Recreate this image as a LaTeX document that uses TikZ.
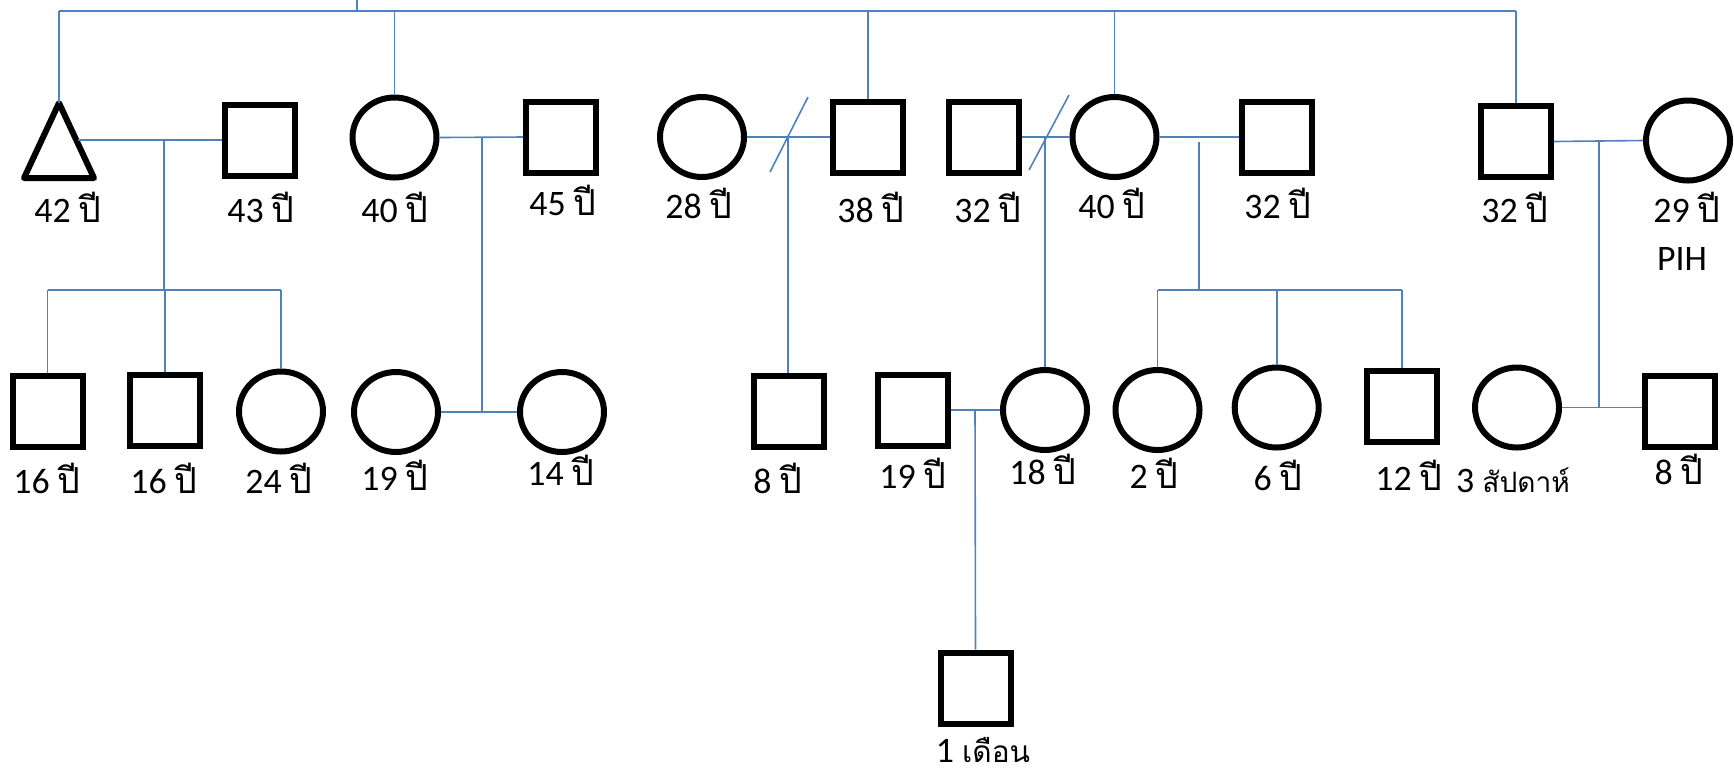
\documentclass[tikz,border=0pt]{standalone}
\usepackage{fontspec}
\setmainfont{Carlito}
\newfontfamily\thaifont[Script=Thai]{Loma}
\usepackage{tikz}
\usetikzlibrary{shapes.geometric}

\definecolor{linkblue}{RGB}{79,129,189}
\newcommand{\yrs}[1]{#1 {\thaifont ปี}}

\tikzset{
  male/.style={rectangle, draw=black, line width=0.6mm,
    minimum width=7.0mm, minimum height=7.1mm, inner sep=0pt},
  female/.style={ellipse, draw=black, line width=0.6mm,
    minimum width=8.4mm, minimum height=8.0mm, inner sep=0pt},
  rel/.style={draw=linkblue, line width=0.16mm},
  age/.style={anchor=base, inner sep=0pt, font=\fontsize{10.2}{12}\selectfont},
}

\begin{document}
\begin{tikzpicture}[x=0.1mm, y=-0.1mm]
  \useasboundingbox (0,0) rectangle (1734,772);

  \draw[draw=black, line width=0.6mm, line join=round]
    (59,103) coordinate (tri) -- (94,178) -- (24,178) -- cycle;
  \coordinate (tri-r) at (78,140);
  \node[male] (sq43) at (260,140) {};
  \node[female] (circ40) at (394.5,137.5) {};
  \node[male] (sq45) at (561,137) {};
  \node[female] (circ28) at (702,137) {};
  \node[male] (sq38) at (868,137) {};
  \node[male] (sq32) at (983.5,137) {};
  \node[female] (circ40b) at (1114.5,137) {};
  \node[male] (sq32b) at (1276.6,137) {};
  \node[male] (sq32c) at (1516,141.5) {};
  \node[female] (circ29) at (1688,140.5) {};

  \node[male] (sq16a) at (47.5,411.5) {};
  \node[male] (sq16b) at (165,410) {};
  \node[female] (circ24) at (281,411.5) {};
  \node[female] (circ19) at (396,412) {};
  \node[female] (circ14) at (562,412) {};
  \node[male] (sq8) at (789,411.5) {};
  \node[male] (sq19b) at (912.5,410) {};
  \node[female] (circ18) at (1045,410) {};
  \node[female] (circ2) at (1157.5,410) {};
  \node[female] (circ6) at (1276.7,407.5) {};
  \node[male] (sq12) at (1402,406) {};
  \node[female] (circ3w) at (1517,407.5) {};
  \node[male] (sq8b) at (1680,411) {};

  \node[male] (sq1m) at (975.5,688) {};

  \node[age] (a42) at (68,222) {\yrs{42}};
  \node[age] (a43) at (261,222) {\yrs{43}};
  \node[age] (a40) at (395,222) {\yrs{40}};
  \node[age] (a45) at (563,215) {\yrs{45}};
  \node[age] (a28) at (699,218) {\yrs{28}};
  \node[age] (a38) at (871,222) {\yrs{38}};
  \node[age] (a32) at (988,222) {\yrs{32}};
  \node[age] (a40b) at (1112,218) {\yrs{40}};
  \node[age] (a32b) at (1278,218) {\yrs{32}};
  \node[age] (a32c) at (1515,222) {\yrs{32}};
  \node[age] (a29) at (1687,222) {\yrs{29}};
  \node[age] (pih) at (1682,270) {PIH};

  \node[age] (a16a) at (47,493) {\yrs{16}};
  \node[age] (a16b) at (164,493) {\yrs{16}};
  \node[age] (a24) at (279,493) {\yrs{24}};
  \node[age] (a19) at (395,490) {\yrs{19}};
  \node[age] (a14) at (561,485) {\yrs{14}};
  \node[age] (a8) at (778,493) {\yrs{8}};
  \node[age] (a19b) at (913,488) {\yrs{19}};
  \node[age] (a18) at (1043,484) {\yrs{18}};
  \node[age] (a2) at (1154,488) {\yrs{2}};
  \node[age] (a6) at (1278,490) {\yrs{6}};
  \node[age] (a12) at (1409,490) {\yrs{12}};
  \node[age] (a3w) at (1513,492) {3 {\thaifont\fontsize{8}{10}\selectfont สัปดาห์}};
  \node[age] (a8b) at (1679,484) {\yrs{8}};
  \node[age] (a1m) at (983,762) {1 {\thaifont\fontsize{8.5}{10}\selectfont เดือน}};

  \coordinate (root) at (357,0);
  \coordinate (g1) at (357,11);
  \draw[rel] (root) -- (g1);
  \draw[rel] (tri |- g1) -- (sq32c.north |- g1);
  \draw[rel] (tri |- g1) -- (tri);
  \foreach \n in {circ40, sq38, circ40b, sq32c}
    \draw[rel] (\n.north |- g1) -- (\n.north);

  \draw[rel] (tri-r) -- (sq43.west);
  \coordinate (m1) at (164,140);
  \coordinate (s1) at (164,290);
  \draw[rel] (m1) -- (s1);
  \draw[rel] (sq16a.north |- s1) -- (circ24.north |- s1);
  \foreach \n in {sq16a, sq16b, circ24}
    \draw[rel] (\n.north |- s1) -- (\n.north);

  \draw[rel] (circ40.east) -- (sq45.west);
  \coordinate (m2) at (482,137);
  \draw[rel] (m2) -- (m2 |- circ19.east);
  \draw[rel] (circ19.east) -- (circ14.west);

  \draw[rel] (circ28.east) -- (sq38.west);
  \coordinate (m3) at (788,137);
  \draw[rel] ([shift={(-18,35)}]m3) -- ([shift={(20,-40)}]m3);
  \draw[rel] (m3) -- (m3 |- sq8.north);

  \draw[rel] (sq32.east) -- (circ40b.west);
  \coordinate (m4) at (1045,137);
  \draw[rel] ([shift={(-16,33)}]m4) -- ([shift={(24,-42)}]m4);
  \draw[rel] (m4) -- (circ18.north);

  \draw[rel] (circ40b.east) -- (sq32b.west);
  \coordinate (m5) at (1199,142);
  \coordinate (s5) at (1199,290);
  \draw[rel] (m5) -- (s5);
  \draw[rel] (circ2.north |- s5) -- (sq12.north |- s5);
  \foreach \n in {circ2, circ6, sq12}
    \draw[rel] (\n.north |- s5) -- (\n.north);

  \draw[rel] (sq32c.east) -- (circ29.west);
  \coordinate (m6) at (1599,141.5);
  \draw[rel] (m6) -- (m6 |- circ3w.east);
  \draw[rel] (circ3w.east) -- (circ3w.east -| sq8b.west);

  \draw[rel] (sq19b.east) -- (circ18.west);
  \coordinate (m7) at (975,410);
  \draw[rel] (m7) -- (sq1m.north);
\end{tikzpicture}
\end{document}
